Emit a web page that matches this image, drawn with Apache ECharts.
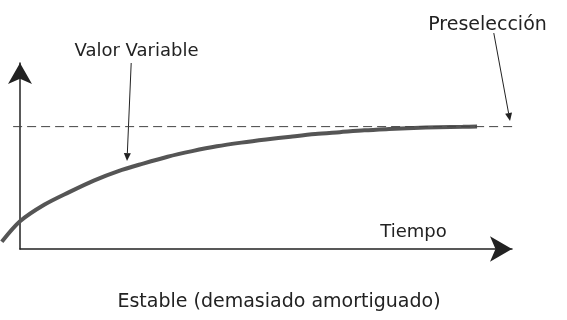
<!DOCTYPE html>
<html>
<head>
<meta charset="utf-8">
<script src="https://cdn.jsdelivr.net/npm/echarts@6/dist/echarts.min.js"></script>
<style>
html,body{margin:0;padding:0;background:#fff;}
#chart{width:567px;height:320px;}
</style>
</head>
<body>
<div id="chart"></div>
<script>
// Curve: time (arbitrary units, axis 0..100) and process value (arbitrary units, axis 0..100)
const time  = [-3.7, 0, 5, 10, 15, 20, 25, 30, 35, 40, 45, 50, 55, 60, 65, 70, 75, 80, 85, 90, 92.9];
const value = [3.9, 14.9, 23.9, 30.6, 36.8, 41.9, 45.9, 49.6, 52.6, 55.2, 57.2, 58.9, 60.4, 61.8, 62.8, 63.8, 64.5, 65.1, 65.5, 65.7, 65.8];
// Setpoint (Preselección) and its drawn span along time
const setpoint = 65.8;
const setpointSpan = [-1.4, 101.0];
// Texts
const labelCurve = 'Valor Variable';
const labelSetpoint = 'Preselección';
const labelTime = 'Tiempo';
const labelCaption = 'Estable (demasiado amortiguado)';
// Annotation arrows in data units: [from, to]
const arrowCurve = [[22.6, 100.0], [21.75, 47.3]];
const arrowSetpoint = [[96.3, 116.1], [99.6, 68.8]];

const W = 567;
const G = {left: 20, right: 55, top: 63, bottom: 71};
const pxPerX = (W - G.left - G.right) / 100;
const wideMin = -G.left / pxPerX;
const wideMax = (W - G.left) / pxPerX;

const chart = echarts.init(document.getElementById('chart'), null, {renderer: 'canvas'});
const hidden = {axisTick: {show: false}, axisLabel: {show: false}, splitLine: {show: false}};
chart.setOption({
  animation: false,
  backgroundColor: '#fff',
  grid: [
    {left: G.left, right: G.right, top: G.top, bottom: G.bottom},
    {left: 0, right: 0, top: G.top, bottom: G.bottom}
  ],
  xAxis: [
    Object.assign({type: 'value', gridIndex: 0, min: 0, max: 100,
      axisLine: {show: true, symbol: ['none', 'arrow'], symbolSize: [19, 22], lineStyle: {color: '#222', width: 1.5}}}, hidden),
    Object.assign({type: 'value', gridIndex: 1, min: wideMin, max: wideMax, axisLine: {show: false}}, hidden)
  ],
  yAxis: [
    Object.assign({type: 'value', gridIndex: 0, min: 0, max: 100,
      axisLine: {show: true, symbol: ['none', 'arrow'], symbolSize: [18, 21], lineStyle: {color: '#222', width: 1.5}}}, hidden),
    Object.assign({type: 'value', gridIndex: 1, min: 0, max: 100, axisLine: {show: false}}, hidden)
  ],
  series: [
    {
      type: 'line', xAxisIndex: 1, yAxisIndex: 1,
      data: time.map((t, i) => [t, value[i]]), smooth: 0.3,
      showSymbol: false, clip: false,
      lineStyle: {color: '#555', width: 4}
    },
    {
      type: 'line', xAxisIndex: 1, yAxisIndex: 1,
      data: [[setpointSpan[0], setpoint], [setpointSpan[1], setpoint]],
      showSymbol: false, clip: false,
      lineStyle: {color: '#444', width: 1, type: [9, 5]}
    }
  ]
});

function arrowGraphic(a) {
  const p1 = chart.convertToPixel({gridIndex: 1}, a[0]);
  const p2 = chart.convertToPixel({gridIndex: 1}, a[1]);
  const dx = p2[0] - p1[0], dy = p2[1] - p1[1];
  const len = Math.sqrt(dx * dx + dy * dy);
  const ux = dx / len, uy = dy / len;
  const hl = 8, hw = 3.5;
  const bx = p2[0] - ux * hl, by = p2[1] - uy * hl;
  return [
    {type: 'line', shape: {x1: p1[0], y1: p1[1], x2: bx, y2: by}, style: {stroke: '#222', lineWidth: 1}},
    {type: 'polygon', shape: {points: [[p2[0], p2[1]], [bx - uy * hw, by + ux * hw], [bx + uy * hw, by - ux * hw]]}, style: {fill: '#222'}}
  ];
}
function textGraphic(t, x, y, size) {
  return {type: 'text', style: {text: t, x: x, y: y, font: size + 'px "DejaVu Sans"', fill: '#222', align: 'center', verticalAlign: 'middle', textAlign: 'center', textVerticalAlign: 'middle'}};
}
chart.setOption({
  graphic: [].concat(
    arrowGraphic(arrowCurve),
    arrowGraphic(arrowSetpoint),
    [
      textGraphic(labelCurve, 136.5, 51.5, 18),
      textGraphic(labelSetpoint, 487.5, 25, 19),
      textGraphic(labelTime, 413.5, 232.5, 18),
      textGraphic(labelCaption, 279, 302.5, 19)
    ]
  )
});
</script>
</body>
</html>
